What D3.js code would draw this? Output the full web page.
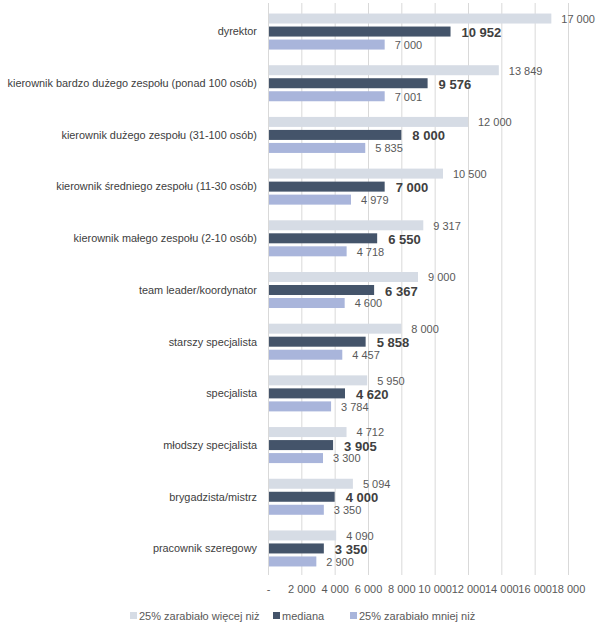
<!DOCTYPE html>
<html><head><meta charset="utf-8">
<script src="https://cdn.jsdelivr.net/npm/d3@7"></script>
<style>
body{margin:0;background:#fff;}
text{font-family:"Liberation Sans",Arial,sans-serif;}
</style></head>
<body><svg id="c" width="605" height="633"></svg>
<script>
const categories = ["dyrektor","kierownik bardzo dużego zespołu (ponad 100 osób)","kierownik dużego zespołu (31-100 osób)","kierownik średniego zespołu (11-30 osób)","kierownik małego zespołu (2-10 osób)","team leader/koordynator","starszy specjalista","specjalista","młodszy specjalista","brygadzista/mistrz","pracownik szeregowy"];
const seriesNames = ["25% zarabiało więcej niż","mediana","25% zarabiało mniej niż"];
const upper = [17000,13849,12000,10500,9317,9000,8000,5950,4712,5094,4090];
const median = [10952,9576,8000,7000,6550,6367,5858,4620,3905,4000,3350];
const lower = [7000,7001,5835,4979,4718,4600,4457,3784,3300,3350,2900];
const ticks = [0,2000,4000,6000,8000,10000,12000,14000,16000,18000];

const colors = ["#d6dce5","#44546a","#a9b5db"];
const values = [upper, median, lower];
const svg = d3.select("#c");
const loc = d3.formatLocale({decimal:",",thousands:"\u00a0",grouping:[3],currency:["",""]});
const fmt = v => v === 0 ? "-" : loc.format(",d")(v);

const x = d3.scaleLinear().domain([0,18000]).range([268,568]);
const y0 = d3.scaleBand().domain(categories).range([5.7,574.3]).paddingInner(0.303).paddingOuter(0.1515);
const y1 = d3.scaleBand().domain(seriesNames).range([0,y0.bandwidth()]).paddingInner(0.2308).paddingOuter(0);

// gridlines
svg.append("g").selectAll("line").data(ticks).join("line")
  .attr("x1",d=>x(d)+0.5).attr("x2",d=>x(d)+0.5).attr("y1",3).attr("y2",575)
  .attr("stroke","#d9d9d9").attr("stroke-width",1);

// axis labels
const xAxis = d3.axisBottom(x).tickValues(ticks).tickFormat(fmt).tickSize(0).tickPadding(0);
const ax = svg.append("g").attr("transform","translate(0,584)").call(xAxis);
ax.select(".domain").remove();
ax.selectAll("text").attr("font-size","11px").attr("fill","#595959").attr("dy","0.32em").attr("y",5);

// category labels
svg.append("g").selectAll("text").data(categories).join("text")
  .attr("x",257).attr("y",d=>y0(d)+y1(seriesNames[1])+y1.bandwidth()/2)
  .attr("dy","0.35em").attr("text-anchor","end").attr("font-size","10.9px").attr("fill","#404040").text(d=>d);

// bars
seriesNames.forEach((s,si)=>{
  const g = svg.append("g");
  g.selectAll("rect").data(categories).join("rect")
    .attr("x",x(0)+1).attr("y",(d)=>y0(d)+y1(s))
    .attr("width",(d,i)=>x(values[si][i])-x(0)-1).attr("height",y1.bandwidth())
    .attr("fill",colors[si]);
  g.selectAll("text").data(categories).join("text")
    .attr("x",(d,i)=>x(values[si][i])+ (si===1?11:10))
    .attr("y",d=>y0(d)+y1(s)+y1.bandwidth()/2+ (si===1?1:0.5))
    .attr("dy","0.35em")
    .attr("font-size", si===1?"13px":"11px")
    .attr("font-weight", si===1?"bold":"normal")
    .attr("fill", si===1?"#404040":"#595959")
    .text((d,i)=>fmt(values[si][i]));
});

// legend
const legX = [130,273,350];
const leg = svg.append("g");
seriesNames.forEach((s,i)=>{
  leg.append("rect").attr("x",legX[i]).attr("y",612).attr("width",7).attr("height",7).attr("fill",colors[i]);
  leg.append("text").attr("x",legX[i]+9).attr("y",616).attr("dy","0.35em").attr("font-size","11px").attr("fill","#595959").text(s);
});
</script></body></html>
